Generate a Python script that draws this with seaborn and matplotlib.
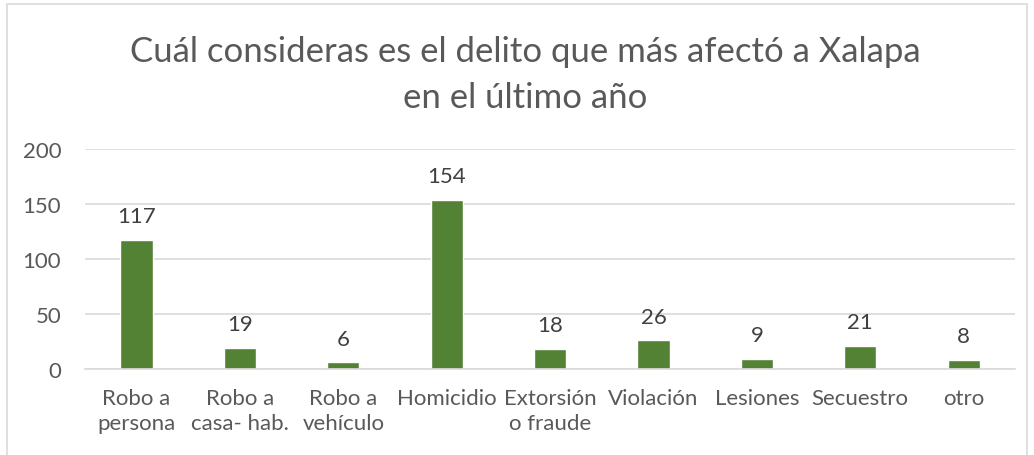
import matplotlib
matplotlib.use("Agg")
import matplotlib.pyplot as plt
import pandas as pd
import seaborn as sns
from matplotlib.patches import Rectangle

categories = ["Robo a\npersona", "Robo a\ncasa- hab.", "Robo a\nvehículo", "Homicidio",
              "Extorsión\no fraude", "Violación", "Lesiones", "Secuestro", "otro"]
values = [117, 19, 6, 154, 18, 26, 9, 21, 8]
yticks = [0, 50, 100, 150, 200]

sns.set_theme(style="white")
plt.rcParams["font.family"] = ["Lato", "DejaVu Sans"]

gray = "#595959"
df = pd.DataFrame({"cat": categories, "val": values})

fig = plt.figure(figsize=(10.34, 4.56), dpi=100)
ax = fig.add_axes([0.082, 0.1886, 0.900, 0.4825])
sns.barplot(data=df, x="cat", y="val", color="#548235", width=0.31, saturation=1, ax=ax)

ax.set_ylim(0, 200)
ax.set_yticks(yticks)
ax.yaxis.grid(True, color="#d9d9d9", linewidth=1.2)
ax.set_axisbelow(True)
for side in ["top", "right", "left"]:
    ax.spines[side].set_visible(False)
ax.spines["bottom"].set_color("#d9d9d9")
ax.spines["bottom"].set_linewidth(1.2)
ax.tick_params(axis="both", length=0, labelsize=16, colors=gray)
ax.tick_params(axis="x", pad=14)
ax.tick_params(axis="y", pad=17)
for lab in ax.get_xticklabels():
    lab.set_linespacing(1.3)
ax.set_xlabel("")
ax.set_ylabel("")
ax.set_xlim(-0.5, len(categories) - 0.5)

for i, v in enumerate(values):
    ax.annotate(str(v), (i, v), xytext=(0, 10), textcoords="offset points",
                ha="center", va="bottom", fontsize=16, color="#404040")

fig.text(0.508, 0.835, "Cuál consideras es el delito que más afectó a Xalapa\nen el último año",
         ha="center", va="center", fontsize=25, color=gray, linespacing=1.55)

fig.patches.append(Rectangle((7 / 1034, -0.05), 1020 / 1034, 1.04, transform=fig.transFigure,
                             fill=False, edgecolor="#d9d9d9", linewidth=1.2))

fig.savefig("out.png", dpi=100)
